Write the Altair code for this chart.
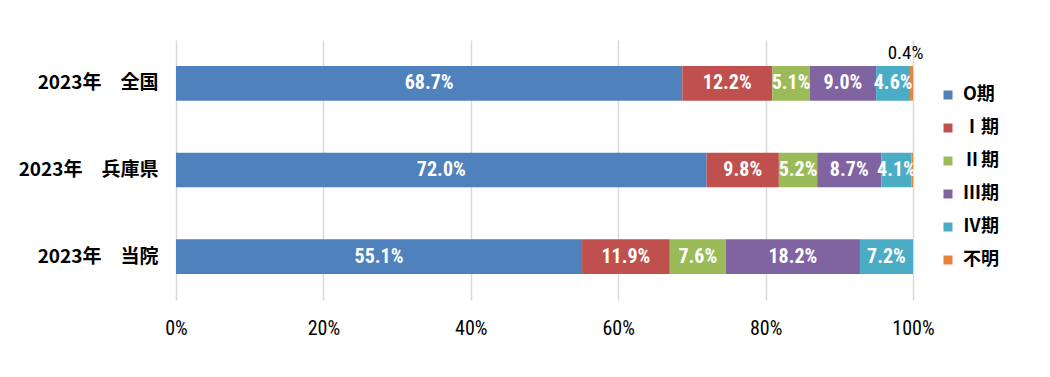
import altair as alt
import pandas as pd

groups = ["2023年　全国", "2023年　兵庫県", "2023年　当院"]
stages = ["O期", "Ⅰ期", "Ⅱ期", "Ⅲ期", "Ⅳ期", "不明"]
colors = ["#4F81BD", "#C0504D", "#9BBB59", "#8064A2", "#4BACC6", "#E6843C"]
zenkoku = [68.7, 12.2, 5.1, 9.0, 4.6, 0.4]
hyogo = [72.0, 9.8, 5.2, 8.7, 4.1, 0.2]
touin = [55.1, 11.9, 7.6, 18.2, 7.2, 0.0]

rows = []
for g, vals in zip(groups, [zenkoku, hyogo, touin]):
    cum = 0.0
    for i, (s, v) in enumerate(zip(stages, vals)):
        rows.append({"group": g, "stage": s, "order": i, "value": v,
                     "start": cum, "end": cum + v, "mid": cum + v / 2,
                     "label": f"{v:.1f}%"})
        cum += v
df = pd.DataFrame(rows)

FONT = "Liberation Sans Narrow, Roboto Condensed, Noto Sans CJK JP, sans-serif"

base = alt.Chart(df)

y = alt.Y("group:N", sort=groups, title=None,
          scale=alt.Scale(paddingInner=0.6, paddingOuter=0.3),
          axis=alt.Axis(ticks=False, domain=False, labelFontSize=19, labelFontWeight="bold",
                        labelFont="Noto Sans CJK JP", labelColor="#000", labelPadding=18))

bars = base.mark_bar().encode(
    x=alt.X("start:Q", scale=alt.Scale(domain=[0, 100], nice=False), title=None,
            axis=alt.Axis(values=[0, 20, 40, 60, 80, 100], labelExpr="datum.value + '%'",
                          ticks=False, domain=False, grid=True, gridColor="#d9d9d9", gridWidth=1.5,
                          labelFlush=False,
                          labelFontSize=20, labelFont=FONT, labelColor="#000", labelPadding=18)),
    x2="end:Q",
    y=y,
    color=alt.Color("stage:N", scale=alt.Scale(domain=stages, range=colors),
                    legend=alt.Legend(title=None, orient="none", legendX=763, legendY=46,
                                      symbolType="square", symbolSize=81, labelFontSize=18,
                                      labelFont="Noto Sans CJK JP", labelColor="#000",
                                      labelFontWeight="bold", labelOffset=6,
                                      rowPadding=15, symbolStrokeWidth=0, padding=0)),
    order="order:Q",
)

inner = base.transform_filter("datum.value >= 1").mark_text(
    color="white", fontSize=20, font=FONT, fontWeight="bold"
).encode(x="mid:Q", y=alt.Y("group:N", sort=groups), text="label:N")

small = base.transform_filter("datum.value > 0.3 && datum.value < 1").mark_text(
    color="black", fontSize=19, font=FONT, dy=-30, dx=-6
).encode(x="mid:Q", y=alt.Y("group:N", sort=groups), text="label:N")

chart = alt.layer(bars, inner, small).properties(
    width=737, height=260, autosize="none",
    padding={"left": 168, "top": 32, "right": 129, "bottom": 69},
).configure_view(stroke=None)

chart.save("out.html", embed_options={"renderer": "svg", "actions": False})
